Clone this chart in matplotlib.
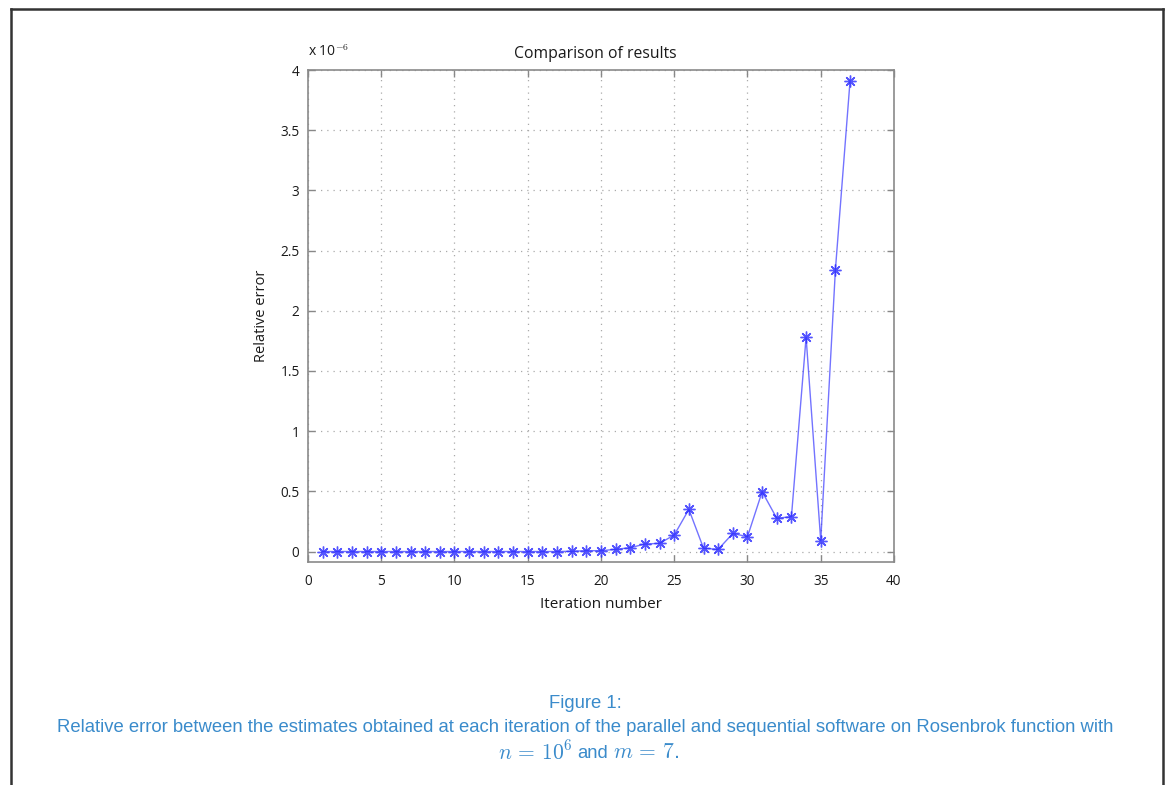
import numpy as np
import matplotlib
matplotlib.use("Agg")
import matplotlib.pyplot as plt
from matplotlib.lines import Line2D

# values (relative error, units of 1e-6)
iterations = list(range(1, 38))
rel_error = [0, 0, 0, 0, 0, 0, 0, 0, 0, 0,
             0, 0, 0, 0, 0, 0, 0, 0.002, 0.007, 0.007,
             0.018, 0.032, 0.062, 0.068, 0.137, 0.35, 0.027, 0.018, 0.15, 0.123,
             0.497, 0.276, 0.29, 1.78, 0.09, 2.34, 3.91]
x_ticks = [0, 5, 10, 15, 20, 25, 30, 35, 40]
y_ticks = [0, 0.5, 1, 1.5, 2, 2.5, 3, 3.5, 4]
y_labels = ["0", "0.5", "1", "1.5", "2", "2.5", "3", "3.5", "4"]

plt.rcParams["font.family"] = ["Open Sans", "DejaVu Sans"]
plt.rcParams["mathtext.fontset"] = "cm"

fig = plt.figure(figsize=(11.7, 7.85), dpi=100)
ax = fig.add_axes([0.2632, 0.2847, 0.5009, 0.6261])

scale = 1e-6
ax.plot(iterations, np.array(rel_error) * scale, color="#4444ff", lw=1.0,
        alpha=0.75)
ax.plot(iterations, np.array(rel_error) * scale, ls="none", color="#2a2aff",
        marker=(8, 2, 0), markersize=8.5, markeredgewidth=1.0, alpha=0.8)

ax.set_xlim(0, 40)
ax.set_ylim(-0.083 * scale, 4 * scale)
ax.set_xticks(x_ticks)
ax.set_yticks(np.array(y_ticks) * scale)
ax.set_yticklabels(y_labels)
ax.grid(True, linestyle=(0, (1, 4)), color="#aaaaaa", lw=0.9)
ax.tick_params(direction="in", top=True, right=True, length=5, width=1,
               color="#888888", labelsize=9.8, labelcolor="#1a1a1a")
ax.tick_params(axis="x", pad=9)
ax.tick_params(axis="y", pad=6)
for s in ax.spines.values():
    s.set_color("#8a8a8a")
    s.set_linewidth(1.2)

ax.set_title("Comparison of results", fontsize=11.3, color="#1a1a1a", pad=9,
             x=0.49)
ax.set_xlabel("Iteration number", fontsize=11, color="#1a1a1a", labelpad=6)
ax.set_ylabel("Relative error", fontsize=10.5, color="#1a1a1a", labelpad=8)
ax.text(0.0, 1.02, r"x 10$^{\mathsf{-6}}$", transform=ax.transAxes,
        fontsize=10, color="#1a1a1a", ha="left", va="bottom")

# page frame
frame_kw = dict(transform=fig.transFigure, color="#333333", lw=1.8)
fig.add_artist(Line2D([11 / 1170, 1163 / 1170], [1 - 9 / 785, 1 - 9 / 785], **frame_kw))
fig.add_artist(Line2D([11 / 1170, 11 / 1170], [0, 1 - 9 / 785], **frame_kw))
fig.add_artist(Line2D([1163 / 1170, 1163 / 1170], [0, 1 - 9 / 785], **frame_kw))

# caption
cap_color = "#3a8bcb"
cap_kw = dict(va="center", color=cap_color, family="Liberation Sans")
fig.text(0.5, 1 - 703 / 785, "Figure 1:", ha="center", fontsize=13.3, **cap_kw)
fig.text(0.5, 1 - 728 / 785,
         "Relative error between the estimates obtained at each iteration of the "
         "parallel and sequential software on Rosenbrok function with",
         ha="center", fontsize=13.3, **cap_kw)
y3 = 1 - 753 / 785
fig.text(593 / 1170, y3, "and", ha="center", fontsize=13.3, **cap_kw)
fig.text(573 / 1170, y3, r"$n\,=\,10^6$", ha="right", fontsize=15.5, **cap_kw)
fig.text(613 / 1170, y3, r"$m\,=\,7$.", ha="left", fontsize=15.5, **cap_kw)

fig.savefig("out.png", dpi=100)
